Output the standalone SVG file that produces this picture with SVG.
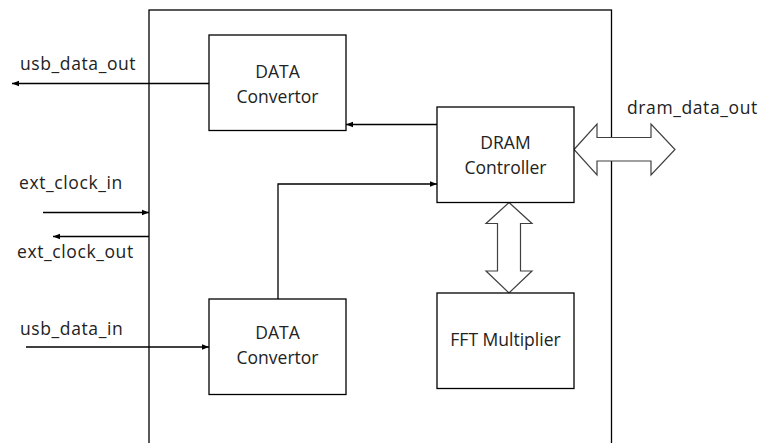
<svg xmlns="http://www.w3.org/2000/svg" width="761" height="443" viewBox="0 0 761 443">
  <defs>
    <marker id="ah" viewBox="0 0 10 10" refX="10" refY="5" markerWidth="7" markerHeight="7" markerUnits="userSpaceOnUse" orient="auto">
      <path d="M0,1 L10,5 L0,9 Z" fill="#000"/>
    </marker>
    <style>
      .box { fill: #fff; stroke: #000; stroke-width: 1.3; }
      .wire { fill: none; stroke: #000; stroke-width: 1.3; }
      .arrow { marker-end: url(#ah); }
      .bus { fill: #fff; stroke: #404040; stroke-width: 1.2; stroke-linejoin: miter; }
      .lbl { font-family: "Open Sans", "Noto Sans", sans-serif; font-size: 17.5px; fill: #222; }
      .pin { letter-spacing: 0.6px; }
      .mid { text-anchor: middle; }
    </style>
  </defs>

  <rect width="761" height="443" fill="#fff"/>

  <!-- chip boundary (open at the bottom) -->
  <g id="chip">
    <rect class="box" x="149" y="10" width="462.5" height="450"/>
  </g>

  <g id="connectors">
    <!-- external pins -->
    <line class="wire arrow" x1="209" y1="83.5" x2="12" y2="83.5"/>
    <line class="wire arrow" x1="43" y1="212.5" x2="149" y2="212.5"/>
    <line class="wire arrow" x1="149" y1="236.5" x2="53" y2="236.5"/>
    <line class="wire arrow" x1="26" y1="347" x2="209" y2="347"/>
    <!-- internal paths -->
    <line class="wire arrow" x1="437" y1="124.5" x2="346" y2="124.5"/>
    <polyline class="wire arrow" points="278,299 278,184 437,184"/>
    <!-- DRAM data bus (double arrow) -->
    <polygon class="bus" points="574,149.5 597,124 597,137.5 651,137.5 651,124 675,149.5 651,175 651,161 597,161 597,175"/>
    <!-- DRAM to FFT bus -->
    <polygon class="bus" points="509,202.5 532,223.5 520.5,223.5 520.5,271 532,271 509,293 486,271 497.5,271 497.5,223.5 486,223.5"/>
  </g>

  <g id="data_convertor_out">
    <rect class="box" x="209" y="35" width="137" height="95.5"/>
    <text class="lbl mid" x="277.5" y="78">DATA</text>
    <text class="lbl mid" x="277.5" y="103">Convertor</text>
  </g>

  <g id="dram_controller">
    <rect class="box" x="437" y="107" width="137" height="95.5"/>
    <text class="lbl mid" x="505.5" y="149">DRAM</text>
    <text class="lbl mid" x="505.5" y="174">Controller</text>
  </g>

  <g id="fft_multiplier">
    <rect class="box" x="437" y="293" width="137" height="95.5"/>
    <text class="lbl mid" x="505.5" y="346">FFT Multiplier</text>
  </g>

  <g id="data_convertor_in">
    <rect class="box" x="209" y="299" width="137" height="95.5"/>
    <text class="lbl mid" x="277.5" y="339">DATA</text>
    <text class="lbl mid" x="277.5" y="364">Convertor</text>
  </g>

  <g id="pin_labels">
    <text class="lbl pin" x="20" y="70">usb_data_out</text>
    <text class="lbl pin" x="19" y="189">ext_clock_in</text>
    <text class="lbl pin" x="17" y="258">ext_clock_out</text>
    <text class="lbl pin" x="20" y="335">usb_data_in</text>
    <text class="lbl pin" x="627" y="114">dram_data_out</text>
  </g>
</svg>
